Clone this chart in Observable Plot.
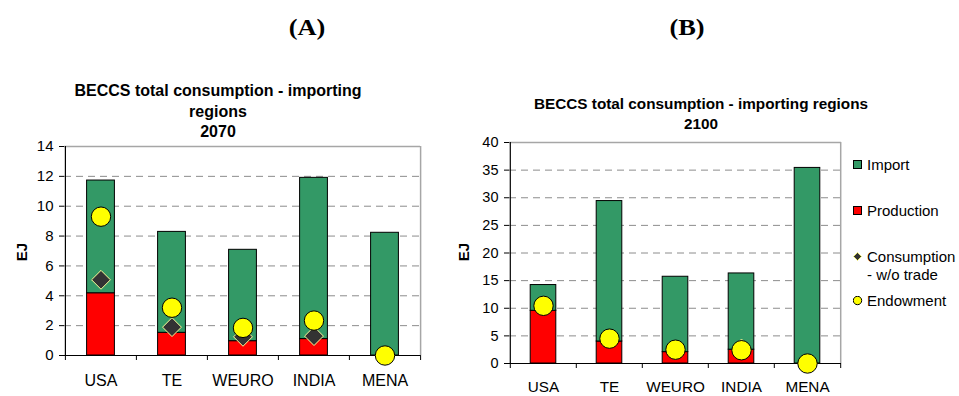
<!DOCTYPE html>
<html>
<head>
<meta charset="utf-8">
<script src="https://cdn.jsdelivr.net/npm/d3@7"></script>
<script src="https://cdn.jsdelivr.net/npm/@observablehq/plot@0.6"></script>
<style>
  html, body { margin: 0; padding: 0; background: #fff; }
  #root { position: relative; width: 959px; height: 396px; overflow: hidden; font-family: "Liberation Sans", Arial, sans-serif; color: #000; }
  .abs { position: absolute; }
  .panel-label { font-family: "Liberation Serif", "Times New Roman", serif; font-weight: bold; font-size: 24px; transform: translate(-50%, -50%) scaleX(1.1); white-space: nowrap; }
  .title { font-weight: bold; text-align: center; transform: translateX(-50%); white-space: nowrap; }
  .ylab { font-weight: bold; font-size: 15px; transform: translate(-50%, -50%) rotate(-90deg); }
  .legend { font-size: 15px; line-height: 18px; }
  .legend .item { position: absolute; left: 0; white-space: nowrap; }
  .legend svg { position: absolute; left: 0; }
  .legend .txt { position: absolute; left: 14px; }
</style>
</head>
<body>
<div id="root"></div>
<script>
// ---- Data ----
const regions = ["USA", "TE", "WEURO", "INDIA", "MENA"];

// Panel A: 2070
const production2070 = [4.17, 1.52, 0.96, 1.10, 0.00];
const import2070     = [7.55, 6.76, 6.12, 10.80, 8.22];
const consWoTrade2070 = [5.07, 1.90, 1.25, 1.30, 0.00];
const endowment2070  = [9.30, 3.20, 1.85, 2.34, 0.00];
const yTicks2070 = [0, 2, 4, 6, 8, 10, 12, 14];

// Panel B: 2100
const production2100 = [9.54, 3.98, 2.06, 2.50, 0.00];
const import2100     = [4.66, 25.42, 13.64, 13.80, 35.40];
const consWoTrade2100 = [10.40, 4.50, 2.50, 3.70, 0.00];
const endowment2100  = [10.44, 4.50, 2.50, 2.40, 0.00];
const yTicks2100 = [0, 5, 10, 15, 20, 25, 30, 35, 40];

const seriesNames = ["Import", "Production", "Consumption - w/o trade", "Endowment"];
const GREEN = "#339966", RED = "#FF0000", YELLOW = "#FFFF00", DARK = "#333333";

const root = document.getElementById("root");

function el(html, cls, style) {
  const d = document.createElement("div");
  d.className = cls;
  d.innerHTML = html;
  Object.assign(d.style, style);
  root.appendChild(d);
  return d;
}

function panel(opts) {
  const {prod, imp, cons, endow, ticks, width, ml, mr, mt, mb, height, barW, tickFont, catFont, catPad, diamondR, dotR, left} = opts;
  const stackData = [];
  regions.forEach((r, i) => stackData.push({region: r, type: "Production", value: prod[i]}));
  regions.forEach((r, i) => stackData.push({region: r, type: "Import", value: imp[i]}));
  const pts = regions.map((r, i) => ({region: r, cons: cons[i], endow: endow[i]}));
  const bw = (width - ml - mr) / regions.length;
  const inset = (bw - barW) / 2;
  const frameH = height - mt - mb;
  const ymax = ticks[ticks.length - 1];
  const grid = ticks.filter(t => t > 0 && t < ymax);
  const chart = Plot.plot({
    width, height,
    marginLeft: ml, marginRight: mr, marginTop: mt, marginBottom: mb,
    style: {fontFamily: "'Liberation Sans', Arial, sans-serif", background: "transparent", overflow: "visible"},
    x: {type: "band", domain: regions, padding: 0, axis: null, label: null},
    y: {domain: [0, ymax], axis: null, label: null},
    color: {domain: ["Import", "Production"], range: [GREEN, RED]},
    marks: [
      Plot.ruleY(grid, {stroke: "#8c8c8c", strokeDasharray: "7,5", strokeWidth: 1}),
      Plot.ruleY([ymax], {stroke: "#a6a6a6", strokeWidth: 1.5}),
      Plot.ruleX([regions[regions.length - 1]], {dx: bw / 2, stroke: "#a6a6a6", strokeWidth: 1.5}),
      Plot.barY(stackData, {x: "region", y: "value", fill: "type", stroke: "#000", strokeWidth: 1, insetLeft: inset, insetRight: inset}),
      Plot.ruleY([0], {stroke: "#000", strokeWidth: 1.2}),
      Plot.ruleX([regions[0]], {dx: -bw / 2, stroke: "#000", strokeWidth: 1.2}),
      Plot.ruleX(regions, {dx: -bw / 2, stroke: "#000", insetTop: frameH, insetBottom: -5}),
      Plot.ruleX([regions[regions.length - 1]], {dx: bw / 2, stroke: "#000", insetTop: frameH, insetBottom: -5}),
      Plot.axisY({ticks, tickSize: 5, tickPadding: 6, fontSize: tickFont, stroke: "#000", tickFormat: d => String(d), label: null}),
      Plot.axisX({tickSize: 0, tickPadding: catPad, fontSize: catFont, label: null}),
      Plot.dot(pts, {x: "region", y: "cons", symbol: "diamond2", r: diamondR, fill: DARK, stroke: "#FFFF99", strokeWidth: 1}),
      Plot.dot(pts, {x: "region", y: "endow", r: dotR, fill: YELLOW, stroke: "#000", strokeWidth: 1})
    ]
  });
  chart.style.position = "absolute";
  chart.style.left = left + "px";
  chart.style.top = "0px";
  root.appendChild(chart);
}

panel({prod: production2070, imp: import2070, cons: consWoTrade2070, endow: endowment2070, ticks: yTicks2070,
  width: 460, height: 396, ml: 64, mr: 40, mt: 146, mb: 41, barW: 28, tickFont: 15, catFont: 16, catPad: 19,
  diamondR: 8.5, dotR: 9.7, left: 0});

panel({prod: production2100, imp: import2100, cons: consWoTrade2100, endow: endowment2100, ticks: yTicks2100,
  width: 499, height: 396, ml: 49, mr: 118, mt: 142, mb: 33, barW: 26, tickFont: 14.5, catFont: 15.3, catPad: 18,
  diamondR: 3.6, dotR: 9.7, left: 460});

// Panel labels
el("(A)", "abs panel-label", {left: "307px", top: "27px"});
el("(B)", "abs panel-label", {left: "687px", top: "27px"});

// Titles
el("BECCS total consumption - importing<br>regions<br>2070", "abs title", {left: "218px", top: "81px", fontSize: "16px", lineHeight: "20.5px"});
el("BECCS total consumption - importing regions<br>2100", "abs title", {left: "701px", top: "94px", fontSize: "15.3px", lineHeight: "19.5px"});

// Y labels
el("EJ", "abs ylab", {left: "21px", top: "252px"});
el("EJ", "abs ylab", {left: "463px", top: "252px"});

// Legend (panel B)
const leg = el("", "abs legend", {left: "853px", top: "0px", width: "106px", height: "396px"});
const legItems = [
  {name: seriesNames[0], y: 165, sw: `<rect x="0.5" y="0.5" width="8" height="8" fill="${GREEN}" stroke="#000"/>`},
  {name: seriesNames[1], y: 211, sw: `<rect x="0.5" y="0.5" width="8" height="8" fill="${RED}" stroke="#000"/>`},
  {name: "Consumption<br>- w/o trade", y: 256.5, sw: `<path d="M4.5 0.5 L8.5 4.5 L4.5 8.5 L0.5 4.5 Z" fill="${DARK}" stroke="#FFFF66" stroke-width="0.8"/>`},
  {name: seriesNames[3], y: 301, sw: `<circle cx="4.5" cy="4.5" r="4.2" fill="${YELLOW}" stroke="#000"/>`}
];
legItems.forEach(it => {
  const item = document.createElement("div");
  item.className = "item";
  item.style.top = (it.y - 9) + "px";
  item.innerHTML = `<svg width="10" height="10" style="top:4px">${it.sw}</svg><div class="txt">${it.name}</div>`;
  leg.appendChild(item);
});
</script>
</body>
</html>
